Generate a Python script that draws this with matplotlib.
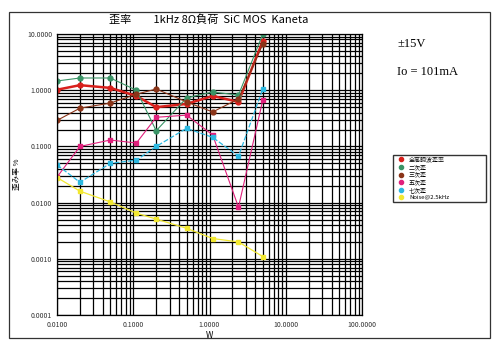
import matplotlib
matplotlib.use("Agg")
import matplotlib.pyplot as plt
from matplotlib.patches import Rectangle
from matplotlib.ticker import LogLocator, FixedLocator, NullFormatter

plt.rcParams['font.family'] = ['Noto Sans CJK JP', 'DejaVu Sans']

# 出力 (W)
power = [0.01, 0.02, 0.05, 0.11, 0.2, 0.5, 1.1, 2.4, 5.0]

# 歪み率 (%)
thd = [1.02, 1.23, 1.1, 0.79, 0.5, 0.57, 0.79, 0.62, 7.5]
h2 = [1.46, 1.65, 1.65, 1.0, 0.19, 0.73, 0.93, 0.82, 10.0]
h3 = [0.29, 0.48, 0.59, 0.85, 1.05, 0.62, 0.41, 0.70, 6.6]
h5 = [0.0285, 0.10, 0.13, 0.115, 0.33, 0.36, 0.16, 0.0083, 0.67]
h7 = [0.047, 0.023, 0.05, 0.057, 0.10, 0.21, 0.145, 0.067, 1.05]
noise = [0.028, 0.016, 0.0103, 0.0065, 0.0051, 0.0035, 0.0023, 0.0020, 0.0011]

labels = ['全高調波歪率', '二次歪', '三次歪', '五次歪', '七次歪', 'Noise@2.5kHz']
xticks = [0.01, 0.1, 1, 10, 100]
yticks = [0.0001, 0.001, 0.01, 0.1, 1, 10]

fig = plt.figure(figsize=(5, 3.47), dpi=100)
ax = fig.add_axes([0.114, 0.092, 0.61, 0.81])

ax.plot(power, thd, color='#d8201c', lw=1.8, marker='o', ms=3.5)
ax.plot(power, h2, color='#3a9466', lw=0.8, marker='o', ms=3.5)
ax.plot(power, h3, color='#8a3418', lw=0.8, marker='o', ms=3.5)
ax.plot(power, h5, color='#e0207c', lw=0.8, marker='s', ms=3.5)
ax.plot(power, h7, color='#2cb8e0', lw=0.9, ls=(0, (4, 1.5)), marker='s', ms=3.5)
ax.plot(power, noise, color='#f2e830', lw=0.9, marker='s', ms=3.5)

ax.set_xscale('log')
ax.set_yscale('log')
ax.set_xlim(0.01, 100)
ax.set_ylim(0.0001, 10)

ax.xaxis.set_major_locator(FixedLocator(xticks))
ax.yaxis.set_major_locator(FixedLocator(yticks))
ax.set_xticklabels(['%.4f' % v for v in xticks])
ax.set_yticklabels(['%.4f' % v for v in yticks])
ax.xaxis.set_minor_locator(LogLocator(base=10, subs=range(2, 10)))
ax.yaxis.set_minor_locator(LogLocator(base=10, subs=range(2, 10)))
ax.xaxis.set_minor_formatter(NullFormatter())
ax.yaxis.set_minor_formatter(NullFormatter())
ax.tick_params(axis='both', which='both', length=0, labelsize=5, colors='#333333')
ax.tick_params(axis='x', pad=4)
ax.grid(True, which='both', color='black', lw=0.9)
for s in ax.spines.values():
    s.set_color('black')
    s.set_linewidth(0.9)
ax.set_axisbelow(True)

ax.set_xlabel('W', fontsize=6, labelpad=2)
ax.set_ylabel('歪み率 %', fontsize=5.5, labelpad=4)

fig.text(0.418, 0.942, '歪率　　1kHz 8Ω負荷  SiC MOS  Kaneta', ha='center', va='center', fontsize=8)
fig.text(0.794, 0.873, '±15V', fontsize=9, family='Liberation Serif', va='center')
fig.text(0.794, 0.792, 'Io = 101mA', fontsize=9, family='Liberation Serif', va='center')

# 凡例 (マーカーのみ)
colors = ['#d8201c', '#3a9466', '#8a3418', '#e0207c', '#2cb8e0', '#f2e830']
handles = [plt.Line2D([], [], ls='none', marker='o', ms=3, color=c) for c in colors]
fig.legend(handles, labels, loc='upper left', bbox_to_anchor=(0.78, 0.43, 0.198, 0.132),
           mode='expand', fontsize=4.3, frameon=True, fancybox=False, edgecolor='black',
           borderpad=0.3, handletextpad=0.2, labelspacing=0.3, handlelength=2.2)

fig.patches.append(Rectangle((0.018, 0.026), 0.962, 0.94, transform=fig.transFigure,
                             fill=False, edgecolor='#333333', lw=0.9))

fig.savefig('out.png', dpi=100)
